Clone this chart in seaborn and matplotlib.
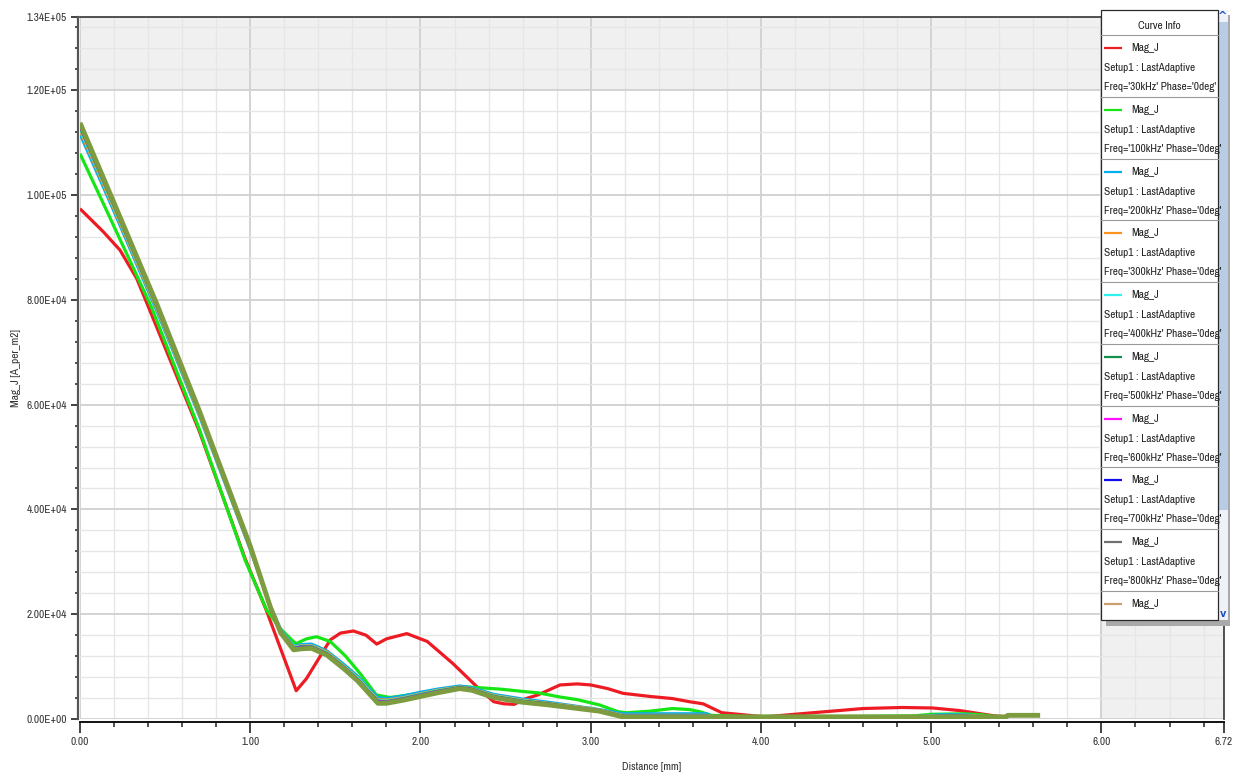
import numpy as np
import pandas as pd
import matplotlib
matplotlib.use("Agg")
import matplotlib.pyplot as plt
import seaborn as sns
from matplotlib.patches import Rectangle

# ---------------------------------------------------------------------------
# Current density magnitude along the probe line, per excitation frequency
# (values in kA/m^2, distance in mm)
# ---------------------------------------------------------------------------
freqs = ["30kHz", "100kHz", "200kHz", "300kHz", "400kHz", "500kHz",
         "600kHz", "700kHz", "800kHz", "900kHz", "1000kHz"]
colors = ["#ed1c24", "#16e616", "#00aeef", "#f7941d", "#2ef2f2", "#11914a",
          "#ff11ff", "#1111ee", "#707070", "#c8a070", "#7d9b3f"]

dist_30k = [0.00, 0.137, 0.235, 0.333, 0.39, 0.70, 0.97, 1.094, 1.27, 1.33,
            1.47, 1.53, 1.606, 1.68, 1.743, 1.80, 1.92, 2.04, 2.19, 2.33,
            2.43, 2.49, 2.55, 2.62, 2.69, 2.82, 2.92, 3.00, 3.10, 3.19,
            3.35, 3.48, 3.58, 3.66, 3.77, 3.93, 4.02, 4.27, 4.60, 4.83,
            5.01, 5.17, 5.25, 5.37, 5.45]
magj_30k = [97.4, 93.0, 89.5, 84.1, 79.6, 55.0, 30.6, 20.8, 5.4, 7.7,
            15.1, 16.4, 16.8, 16.0, 14.3, 15.3, 16.3, 14.8, 10.6, 6.2,
            3.3, 2.9, 2.8, 3.9, 4.6, 6.5, 6.7, 6.5, 5.8, 4.9,
            4.3, 3.9, 3.3, 2.9, 1.2, 0.7, 0.4, 1.1, 2.0, 2.2,
            2.1, 1.6, 1.2, 0.6, 0.4]

dist_100k = [0.00, 0.137, 0.333, 0.42, 0.70, 0.97, 1.097, 1.175, 1.253, 1.27,
             1.33, 1.39, 1.47, 1.56, 1.645, 1.74, 1.82, 2.00, 2.23, 2.33,
             2.47, 2.62, 2.69, 2.82, 2.92, 3.05, 3.16, 3.21, 3.35, 3.48,
             3.58, 3.64, 3.71, 3.90, 4.50, 4.90, 5.00, 5.20, 5.30, 5.41]
magj_100k = [107.9, 98.4, 84.7, 78.6, 55.4, 30.3, 20.8, 17.3, 14.8, 14.4,
             15.3, 15.7, 14.8, 12.0, 8.7, 4.6, 4.1, 4.9, 6.2, 6.0,
             5.7, 5.2, 5.0, 4.2, 3.7, 2.7, 1.4, 1.2, 1.5, 2.0,
             1.8, 1.4, 0.7, 0.5, 0.5, 0.6, 0.9, 1.0, 0.8, 0.3]

# common sampling for the higher-frequency curves
dist_hf = [0.00, 0.20, 0.45, 0.70, 1.00, 1.12, 1.18, 1.255, 1.30, 1.36,
           1.45, 1.55, 1.63, 1.70, 1.75, 1.80, 1.90, 2.00, 2.10, 2.23,
           2.30, 2.43, 2.60, 2.75, 2.90, 3.05, 3.19, 3.40, 3.68, 3.72,
           4.20, 4.90, 5.05, 5.20, 5.30, 5.44]
magj_200k = [111.7, 96.9, 78.0, 58.0, 32.4, 21.4, 17.0, 13.9, 14.2, 14.3,
             13.0, 10.4, 8.2, 5.7, 4.1, 3.9, 4.4, 5.1, 5.7, 6.3,
             6.0, 4.7, 3.8, 3.2, 2.5, 1.8, 1.0, 1.0, 1.0, 0.4,
             0.4, 0.4, 0.8, 0.8, 0.5, 0.2]
magj_300k = [112.4, 97.4, 78.4, 58.3, 32.6, 21.3, 16.8, 13.7, 14.0, 14.0,
             12.8, 10.1, 7.9, 5.4, 3.7, 3.6, 4.1, 4.8, 5.5, 6.1,
             5.8, 4.5, 3.6, 3.0, 2.4, 1.7, 0.7, 0.7, 0.7, 0.4,
             0.4, 0.4, 0.6, 0.7, 0.5, 0.3]
magj_400k = [112.8, 97.8, 78.7, 58.5, 32.7, 21.3, 16.7, 13.6, 13.9, 13.9,
             12.6, 10.0, 7.8, 5.3, 3.5, 3.4, 4.0, 4.7, 5.4, 6.0,
             5.7, 4.4, 3.5, 2.9, 2.3, 1.6, 0.6, 0.6, 0.6, 0.4,
             0.4, 0.4, 0.6, 0.6, 0.4, 0.3]
magj_500k = [113.1, 98.0, 78.9, 58.6, 32.8, 21.3, 16.6, 13.5, 13.8, 13.8,
             12.5, 9.9, 7.6, 5.1, 3.4, 3.3, 3.9, 4.6, 5.3, 6.0,
             5.7, 4.3, 3.4, 2.9, 2.2, 1.6, 0.5, 0.5, 0.5, 0.4,
             0.4, 0.4, 0.5, 0.5, 0.4, 0.3]
magj_600k = [113.3, 98.2, 79.0, 58.7, 32.9, 21.2, 16.5, 13.4, 13.7, 13.7,
             12.4, 9.8, 7.5, 5.0, 3.3, 3.2, 3.8, 4.5, 5.2, 5.9,
             5.6, 4.2, 3.3, 2.8, 2.2, 1.6, 0.5, 0.5, 0.5, 0.4,
             0.4, 0.4, 0.5, 0.5, 0.4, 0.3]
magj_700k = [113.5, 98.3, 79.1, 58.8, 32.9, 21.2, 16.5, 13.3, 13.6, 13.6,
             12.3, 9.7, 7.4, 4.9, 3.2, 3.1, 3.7, 4.4, 5.1, 5.9,
             5.6, 4.2, 3.3, 2.8, 2.1, 1.5, 0.5, 0.5, 0.5, 0.4,
             0.4, 0.4, 0.5, 0.5, 0.4, 0.3]
magj_800k = [113.6, 98.4, 79.2, 58.8, 33.0, 21.2, 16.4, 13.3, 13.5, 13.6,
             12.3, 9.7, 7.4, 4.9, 3.1, 3.1, 3.7, 4.4, 5.1, 5.8,
             5.5, 4.1, 3.2, 2.7, 2.1, 1.5, 0.4, 0.4, 0.4, 0.4,
             0.4, 0.4, 0.5, 0.5, 0.4, 0.3]
magj_900k = [113.7, 98.5, 79.3, 58.9, 33.0, 21.2, 16.4, 13.2, 13.4, 13.5,
             12.2, 9.6, 7.3, 4.8, 3.0, 3.0, 3.6, 4.3, 5.0, 5.8,
             5.5, 4.1, 3.2, 2.7, 2.1, 1.5, 0.4, 0.4, 0.4, 0.4,
             0.4, 0.4, 0.4, 0.4, 0.4, 0.3]

dist_1000k = dist_hf + [5.45, 5.64]
magj_1000k = [113.8, 98.5, 79.3, 58.9, 33.0, 21.2, 16.4, 13.2, 13.4, 13.5,
              12.2, 9.6, 7.3, 4.8, 3.0, 3.0, 3.6, 4.3, 5.0, 5.8,
              5.5, 4.1, 3.2, 2.7, 2.1, 1.5, 0.4, 0.4, 0.4, 0.4,
              0.4, 0.4, 0.4, 0.4, 0.4, 0.4, 0.7, 0.7]

curves = [
    (dist_30k, magj_30k), (dist_100k, magj_100k),
    (dist_hf, magj_200k), (dist_hf, magj_300k), (dist_hf, magj_400k),
    (dist_hf, magj_500k), (dist_hf, magj_600k), (dist_hf, magj_700k),
    (dist_hf, magj_800k), (dist_hf, magj_900k), (dist_1000k, magj_1000k),
]

x_major = [0, 1, 2, 3, 4, 5, 6, 6.72]
x_labels = ["0.00", "1.00", "2.00", "3.00", "4.00", "5.00", "6.00", "6.72"]
y_major = [0, 20000, 40000, 60000, 80000, 100000, 120000, 134000]
y_labels = ["0.00E+00", "2.00E+04", "4.00E+04", "6.00E+04", "8.00E+04",
            "1.00E+05", "1.20E+05", "1.34E+05"]

frames = []
for f, (d, v) in zip(freqs, curves):
    frames.append(pd.DataFrame({"distance_mm": d,
                                "mag_j": np.asarray(v) * 1000.0,
                                "freq": f}))
df = pd.concat(frames, ignore_index=True)

# ---------------------------------------------------------------------------
sns.set_theme(style="ticks")
plt.rcParams["font.family"] = ["Archivo Narrow", "PT Sans Narrow",
                               "Roboto Condensed", "DejaVu Sans"]

W, H = 1241, 778
fig = plt.figure(figsize=(W / 100, H / 100), dpi=100)
fig.patch.set_facecolor("white")
ax = fig.add_axes([80 / W, 1 - 719 / H, 1144 / W, 702 / H])

sns.lineplot(data=df, x="distance_mm", y="mag_j", hue="freq",
             hue_order=freqs, palette=colors, sort=False, estimator=None,
             linewidth=2.3, legend=False, ax=ax)
for ln in ax.lines:
    ln.set_solid_joinstyle("round")
    ln.set_solid_capstyle("butt")
ax.lines[-1].set_linewidth(3.5)

ax.set_xlim(0, 6.72)
ax.set_ylim(0, 134000)

# shaded zones outside the nominal range
ax.axhspan(120000, 134000, color="#f0f0f0", lw=0, zorder=0)
ax.axvspan(6.0, 6.72, color="#f0f0f0", lw=0, zorder=0)
ax.set_axisbelow(True)

x_minor = [t for t in np.arange(0.2, 6.7, 0.2) if abs(t - round(t)) > 1e-6]
y_minor = [t for t in np.arange(4000, 134000, 4000) if t % 20000 != 0]
ax.set_xticks(x_major)
ax.set_xticklabels(x_labels)
ax.set_xticks(x_minor, minor=True)
ax.set_yticks(y_major)
ax.set_yticklabels(y_labels)
ax.set_yticks(y_minor, minor=True)

ax.grid(which="major", color="#d0d0d0", lw=1.3)
ax.grid(which="minor", color="#e6e6e6", lw=1.0)

fs = 8.1
ax.tick_params(axis="both", which="both", top=False, right=False,
               bottom=True, left=True, direction="out", color="#222222",
               labelsize=fs, labelcolor="#333333")
ax.tick_params(axis="x", which="major", length=8, width=1.2, pad=3)
ax.tick_params(axis="x", which="minor", length=3.8, width=1.1)
ax.tick_params(axis="y", which="major", length=5, width=1.2, pad=3)
ax.tick_params(axis="y", which="minor", length=2.4, width=1.1)

ax.spines["left"].set_position(("outward", 1.5))
ax.spines["bottom"].set_position(("outward", 2.2))
ax.spines["left"].set_color("#555555")
ax.spines["left"].set_linewidth(1.6)
ax.spines["bottom"].set_color("#111111")
ax.spines["bottom"].set_linewidth(1.4)
for s in ("top", "right"):
    ax.spines[s].set_visible(True)
    ax.spines[s].set_color("#444444")
    ax.spines[s].set_linewidth(1.3)

ax.set_xlabel("Distance [mm]", fontsize=fs, color="#333333", va="top")
ax.set_ylabel("Mag_J [A_per_m2]", fontsize=fs, color="#333333")
ax.xaxis.set_label_coords(0.5, (719 - 762) / 702)
ax.yaxis.set_label_coords((21 - 80) / 1144, 0.5)

# ---------------------------------------------------------------------------
# "Curve Info" panel with scroll bar, drawn in pixel space
lax = fig.add_axes([0, 0, 1, 1], zorder=10)
lax.set_xlim(0, W)
lax.set_ylim(H, 0)
lax.axis("off")
lax.patch.set_alpha(0)

bx0, bx1, by0, by1 = 1101, 1218, 10, 620
lax.add_patch(Rectangle((bx0 + 5, by0 + 5), bx1 - bx0 + 7, by1 - by0 + 1,
                        facecolor="#a9a9a9", edgecolor="none"))
lax.add_patch(Rectangle((bx1, by0), 10, by1 - by0, facecolor="#eef2f8",
                        edgecolor="none"))
lax.add_patch(Rectangle((bx1 + 0.5, by0 + 12), 9, 488, facecolor="#b9cce6",
                        edgecolor="none"))
lax.text(bx1 + 5, by0 + 6, "^", ha="center", va="center", fontsize=8,
         color="#1f4fbf", fontweight="bold", family="DejaVu Sans")
lax.text(bx1 + 5, by1 - 6, "v", ha="center", va="center", fontsize=7,
         color="#1f4fbf", fontweight="bold", family="DejaVu Sans")
lax.add_patch(Rectangle((bx0, by0), bx1 - bx0, by1 - by0, facecolor="white",
                        edgecolor="#2a2a2a", lw=0.9))

lax.text((bx0 + bx1) / 2, 26, "Curve Info", ha="center", va="center",
         fontsize=fs, color="#222222")
step = 61.75
lax.plot([bx0, bx1], [35, 35], color="#9a9a9a", lw=0.8)
for k in range(10):
    y0 = 35 + step * k
    lax.plot([1104, 1122], [y0 + 13, y0 + 13], color=colors[k], lw=1.6,
             solid_capstyle="butt")
    lax.text(1131, y0 + 13, "Mag_J", ha="left", va="center", fontsize=fs,
             color="#222222")
    if k < 9:
        lax.text(1104, y0 + 33, "Setup1 : LastAdaptive", ha="left",
                 va="center", fontsize=fs, color="#222222")
        lax.text(1104, y0 + 52,
                 "Freq='" + freqs[k] + "' Phase='0deg'", ha="left",
                 va="center", fontsize=fs, color="#222222")
        lax.plot([bx0, bx1], [y0 + step, y0 + step], color="#9a9a9a", lw=0.8)

fig.savefig("out.png", dpi=100, facecolor="white")
